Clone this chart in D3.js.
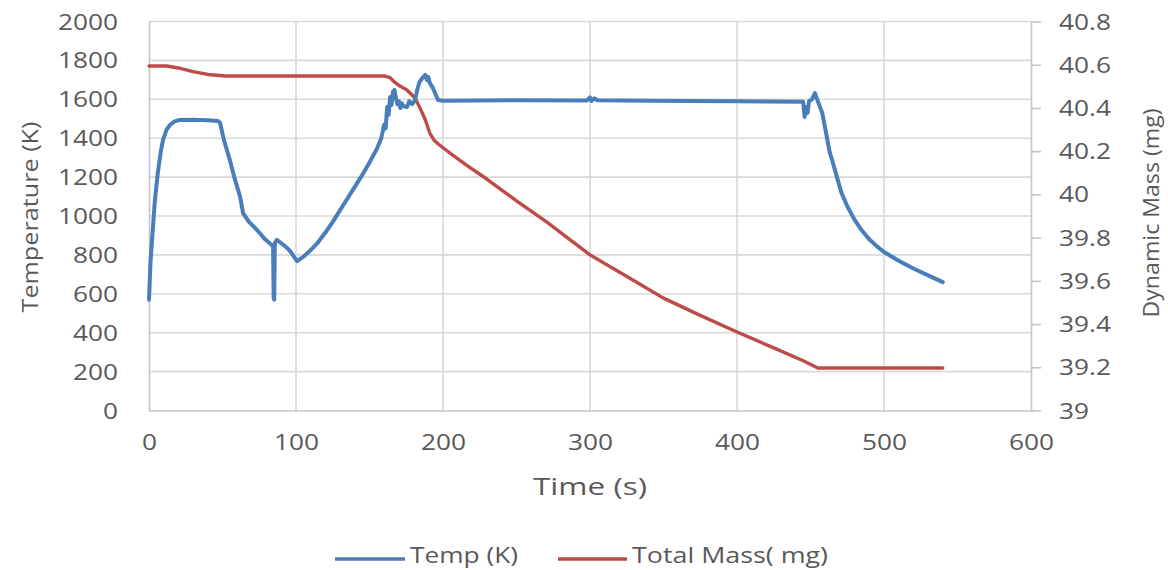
<!DOCTYPE html>
<html>
<head>
<meta charset="utf-8">
<script src="https://cdn.jsdelivr.net/npm/d3@7"></script>
<style>
  body { margin: 0; background: #fff; }
  text { font-family: "Open Sans", "Noto Sans", sans-serif; fill: #595959; }
</style>
</head>
<body>
<svg id="chart" width="1168" height="570"></svg>
<script>
// Furnace temperature trace (s, K)
const tempTime = [0, 1, 2.7, 4, 6, 8, 9.5, 12, 14.3, 17, 21, 30, 40, 47, 48.3, 51, 55, 58, 62, 64, 68, 73.5, 79, 84.4,
  84.8, 85.2, 85.6, 87, 90, 92.5, 96, 100.7, 105, 110, 115, 120, 125, 130, 135, 140, 145, 150, 155, 158,
  160, 161, 162, 163, 164, 165, 166, 167, 168, 169, 170, 171, 172, 173, 175.5, 177, 179, 181, 182.5, 184, 186, 188, 189, 190, 191, 193, 194.6, 196.6,
  200, 250, 298, 300, 301, 303, 305, 340, 400, 445, 446, 447, 448, 449, 451, 453, 455, 458, 460, 463, 465, 468, 471, 475, 480, 485, 490, 495, 500, 510, 520, 530, 540];
const tempK = [570, 760, 943, 1080, 1221, 1330, 1390, 1445, 1468, 1485, 1494, 1495, 1492, 1489, 1480, 1390, 1288, 1200, 1098, 1015, 970, 928, 880, 845,
  580, 570, 860, 877, 860, 845, 820, 768, 790, 825, 865, 915, 970, 1030, 1090, 1150, 1210, 1275, 1345, 1400,
  1470, 1450, 1560, 1520, 1612, 1570, 1640, 1648, 1605, 1575, 1590, 1555, 1580, 1565, 1560, 1590, 1575, 1596, 1650, 1689, 1710, 1725, 1700, 1715, 1684, 1660, 1632, 1596,
  1593, 1595, 1594, 1610, 1592, 1605, 1595, 1593, 1590, 1588, 1509, 1560, 1530, 1590, 1600, 1632, 1590, 1530, 1450, 1330, 1280, 1200, 1120, 1050, 980, 925, 880, 845, 815, 770, 730, 695, 660];

// Total sample mass (s, mg)
const massTime = [0, 12, 20, 30, 40, 52, 160, 164, 167, 171, 175.5, 181, 184, 186, 188, 191, 194, 197, 205, 215, 230, 250, 270, 300, 330, 350, 375, 400, 425, 445, 455, 540];
const massMg = [40.594, 40.594, 40.585, 40.568, 40.555, 40.548, 40.548, 40.54, 40.52, 40.50, 40.483, 40.446, 40.404, 40.375, 40.344, 40.284, 40.25, 40.232, 40.19, 40.14, 40.07, 39.97, 39.875, 39.72, 39.6, 39.52, 39.44, 39.363, 39.29, 39.23, 39.197, 39.197];

const xTicks = [0, 100, 200, 300, 400, 500, 600];
const tempTicks = [0, 200, 400, 600, 800, 1000, 1200, 1400, 1600, 1800, 2000];
const massTicks = [39, 39.2, 39.4, 39.6, 39.8, 40, 40.2, 40.4, 40.6, 40.8];
const seriesNames = ["Temp (K)", "Total Mass( mg)"];
const seriesColors = ["#4a7ebb", "#be4b48"];

const svg = d3.select("#chart");
svg.append("rect").attr("width", 1168).attr("height", 570).attr("fill", "#fff");

const x = d3.scaleLinear([0, 600], [149, 1031]);
const yT = d3.scaleLinear([0, 2000], [410.5, 21.5]);
const yM = d3.scaleLinear([39, 40.8], [410.5, 21.5]);

const gridColor = "#d9d9d9";
const axisColor = "#c4c4c4";
const sx = 1.25; // horizontal stretch of the tick lettering

// gridlines
svg.append("g").selectAll("line").data(tempTicks.slice(1)).join("line")
  .attr("x1", x(0)).attr("x2", x(600))
  .attr("y1", d => yT(d)).attr("y2", d => yT(d))
  .attr("stroke", gridColor).attr("stroke-width", 1.6);
svg.append("g").selectAll("line").data(xTicks.slice(1, -1)).join("line")
  .attr("x1", d => x(d)).attr("x2", d => x(d))
  .attr("y1", yT(0)).attr("y2", yT(2000))
  .attr("stroke", gridColor).attr("stroke-width", 1.6);

// left axis (temperature)
const gL = svg.append("g").attr("transform", `translate(${x(0)},0)`)
  .call(d3.axisLeft(yT).tickValues(tempTicks).tickSize(0).tickSizeOuter(0).tickFormat(d3.format("d")));
gL.select(".domain").attr("stroke", axisColor).attr("stroke-width", 1.6);
gL.selectAll("text").attr("x", -31 / sx).attr("dy", "0.36em")
  .attr("transform", `scale(${sx},1)`).style("font-size", "21px");

// bottom axis (time)
const gB = svg.append("g").attr("transform", `translate(0,${yT(0)})`)
  .call(d3.axisBottom(x).tickValues(xTicks).tickSize(0).tickSizeOuter(0).tickFormat(d3.format("d")));
gB.select(".domain").attr("stroke", axisColor).attr("stroke-width", 1.6);
gB.selectAll("text").attr("y", 40).attr("dy", 0).attr("x", 0)
  .attr("transform", `scale(${sx},1)`).style("font-size", "21px");

// right axis (mass)
const gR = svg.append("g").attr("transform", `translate(${x(600)},0)`)
  .call(d3.axisRight(yM).tickValues(massTicks).tickSize(10).tickSizeOuter(0).tickFormat(d => d3.format("")(+d.toFixed(1))));
gR.select(".domain").attr("stroke", axisColor).attr("stroke-width", 1.6);
gR.selectAll(".tick line").attr("stroke", axisColor).attr("stroke-width", 1.6);
gR.selectAll("text").attr("x", 28 / sx).attr("dy", "0.36em")
  .attr("transform", `scale(${sx},1)`).style("font-size", "21px");

// series
const tempLine = d3.line().x(d => x(d[0])).y(d => yT(d[1]));
const massLine = d3.line().x(d => x(d[0])).y(d => yM(d[1]));
svg.append("path").datum(d3.zip(massTime, massMg)).attr("d", massLine)
  .attr("fill", "none").attr("stroke", seriesColors[1]).attr("stroke-width", 3.4)
  .attr("stroke-linejoin", "round").attr("stroke-linecap", "round");
svg.append("path").datum(d3.zip(tempTime, tempK)).attr("d", tempLine)
  .attr("fill", "none").attr("stroke", seriesColors[0]).attr("stroke-width", 4)
  .attr("stroke-linejoin", "round").attr("stroke-linecap", "round");

// axis titles
svg.append("text").attr("transform", "translate(38,217) rotate(-90)")
  .attr("text-anchor", "middle").attr("textLength", 191).attr("lengthAdjust", "spacingAndGlyphs")
  .style("font-size", "22px").text("Temperature (K)");
svg.append("text").attr("transform", "translate(1159,213) rotate(-90)")
  .attr("text-anchor", "middle").attr("textLength", 209).attr("lengthAdjust", "spacingAndGlyphs")
  .style("font-size", "22px").text("Dynamic Mass (mg)");
svg.append("text").attr("x", 590).attr("y", 495)
  .attr("text-anchor", "middle").attr("textLength", 114).attr("lengthAdjust", "spacingAndGlyphs")
  .style("font-size", "23px").text("Time (s)");

// legend
const legendItems = [
  { x0: 335, x1: 405, tx: 410, tw: 108 },
  { x0: 558, x1: 627, tx: 632, tw: 196 }
];
const lg = svg.append("g");
legendItems.forEach((it, i) => {
  lg.append("line").attr("x1", it.x0).attr("x2", it.x1).attr("y1", 559).attr("y2", 559)
    .attr("stroke", seriesColors[i]).attr("stroke-width", 3.6);
  lg.append("text").attr("x", it.tx).attr("y", 563)
    .attr("textLength", it.tw).attr("lengthAdjust", "spacingAndGlyphs")
    .style("font-size", "21px").text(seriesNames[i]);
});
</script>
</body>
</html>
